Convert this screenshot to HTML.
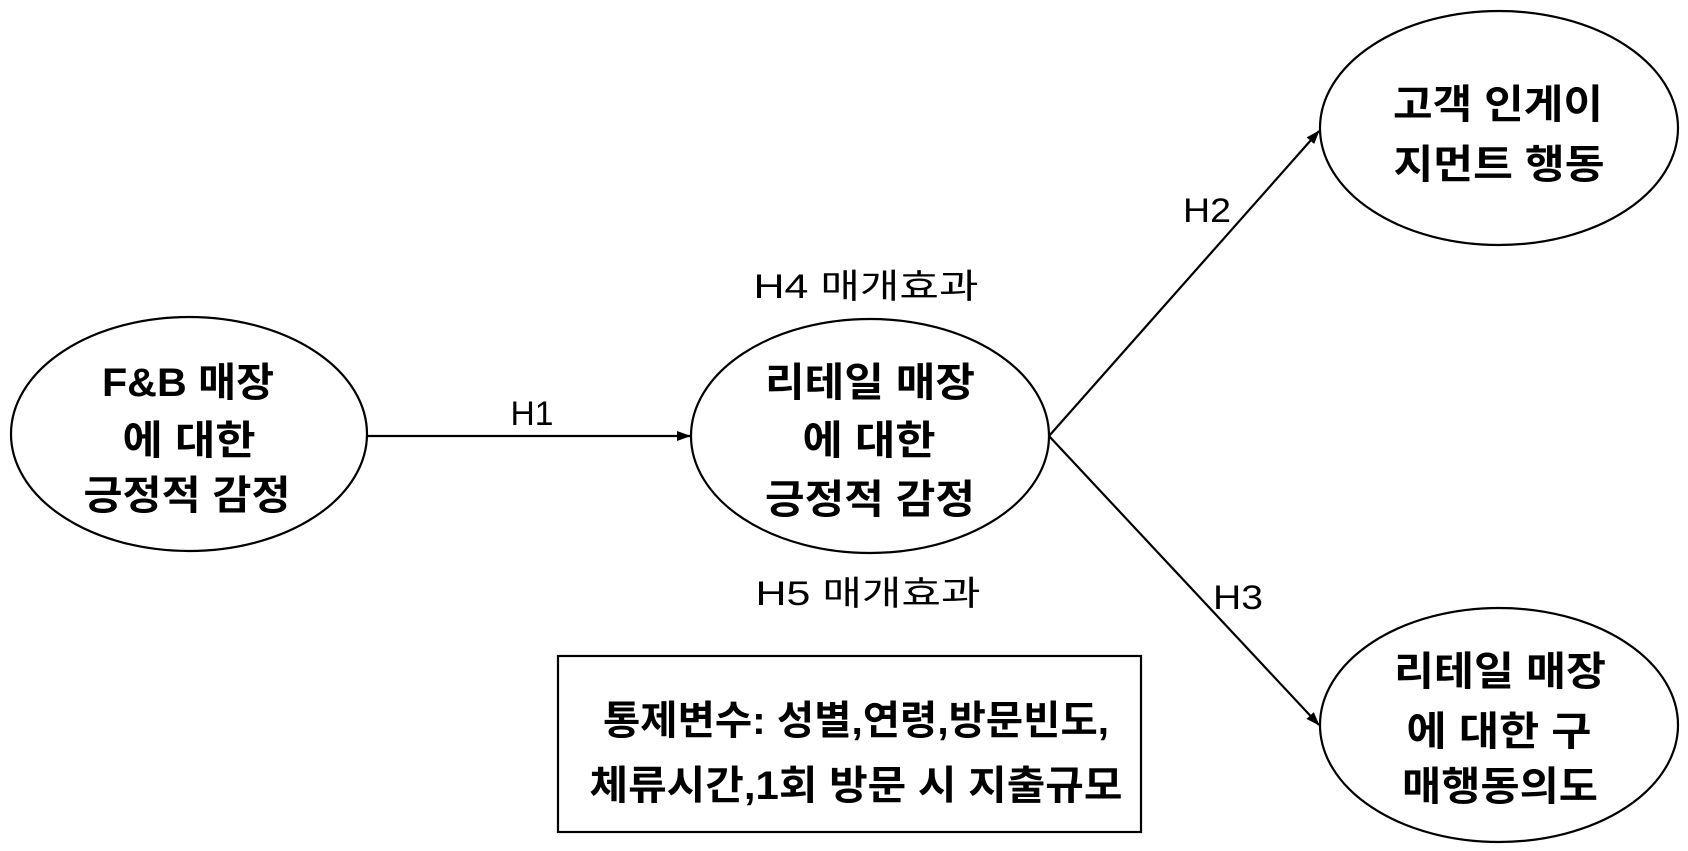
<!DOCTYPE html>
<html><head><meta charset="utf-8"><style>
html,body{margin:0;padding:0;background:#fff;}
svg{display:block;}
text{font-family:"Liberation Sans","Noto Sans CJK KR","NanumGothic",sans-serif;fill:#000;}
.b{font-weight:bold;font-size:40px;}
.l{font-size:34px;}
</style></head><body>
<svg width="1688" height="851" viewBox="0 0 1688 851" xmlns="http://www.w3.org/2000/svg">
<defs><marker id="a" markerWidth="14" markerHeight="12" refX="13" refY="6" orient="auto" markerUnits="userSpaceOnUse"><path d="M0,1 L14,6 L0,11 z" fill="#000"/></marker></defs>
<g fill="none" stroke="#000" stroke-width="2.2">
<ellipse cx="189" cy="434" rx="178" ry="117"/>
<ellipse cx="870" cy="436" rx="179" ry="117"/>
<ellipse cx="1499" cy="128" rx="179" ry="117"/>
<ellipse cx="1499" cy="725" rx="179" ry="117"/>
<rect x="558" y="656" width="583" height="176"/>
<line x1="367" y1="436" x2="690" y2="436" marker-end="url(#a)"/>
<line x1="1049" y1="436" x2="1319" y2="131" marker-end="url(#a)"/>
<line x1="1049" y1="436" x2="1319" y2="725" marker-end="url(#a)"/>
</g>
<g class="b" text-anchor="middle" lengthAdjust="spacingAndGlyphs">
<text x="188" y="396" textLength="172" lengthAdjust="spacingAndGlyphs">F&amp;B 매장</text>
<text x="189" y="454" textLength="133" lengthAdjust="spacingAndGlyphs">에 대한</text>
<text x="187" y="509" textLength="207" lengthAdjust="spacingAndGlyphs">긍정적 감정</text>
<text x="870" y="396" textLength="210" lengthAdjust="spacingAndGlyphs">리테일 매장</text>
<text x="869" y="454" textLength="133" lengthAdjust="spacingAndGlyphs">에 대한</text>
<text x="870" y="513" textLength="210" lengthAdjust="spacingAndGlyphs">긍정적 감정</text>
<text x="1498" y="118" textLength="210" lengthAdjust="spacingAndGlyphs">고객 인게이</text>
<text x="1499" y="178" textLength="211" lengthAdjust="spacingAndGlyphs">지먼트 행동</text>
<text x="1500" y="685" textLength="212" lengthAdjust="spacingAndGlyphs">리테일 매장</text>
<text x="1499" y="745" textLength="185" lengthAdjust="spacingAndGlyphs">에 대한 구</text>
<text x="1500" y="800" textLength="196" lengthAdjust="spacingAndGlyphs">매행동의도</text>
<text x="856" y="734" textLength="506" lengthAdjust="spacingAndGlyphs">통제변수: 성별,연령,방문빈도,</text>
<text x="856" y="799" textLength="533" lengthAdjust="spacingAndGlyphs">체류시간,1회 방문 시 지출규모</text>
</g>
<g class="l" text-anchor="middle">
<text x="532" y="425" textLength="43" lengthAdjust="spacingAndGlyphs">H1</text>
<text x="1207" y="222" textLength="48" lengthAdjust="spacingAndGlyphs">H2</text>
<text x="1238" y="609" textLength="50" lengthAdjust="spacingAndGlyphs">H3</text>
<text x="866" y="298" textLength="225" lengthAdjust="spacingAndGlyphs">H4 매개효과</text>
<text x="868" y="605" textLength="225" lengthAdjust="spacingAndGlyphs">H5 매개효과</text>
</g>
</svg>
</body></html>
